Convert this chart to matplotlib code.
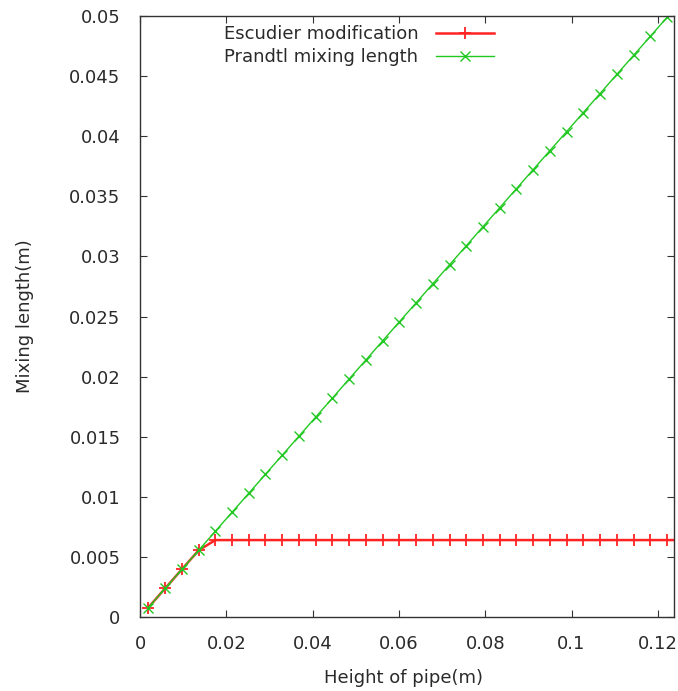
import matplotlib
matplotlib.use("Agg")
import matplotlib.pyplot as plt
from matplotlib.ticker import FuncFormatter

plt.rcParams.update({
    'font.family': ['DejaVu Sans'],
    'font.size': 13,
    'text.color': '#2a2a2a',
    'axes.edgecolor': '#333333',
    'axes.linewidth': 1.0,
    'xtick.direction': 'in', 'ytick.direction': 'in',
    'xtick.top': True, 'ytick.right': True,
    'xtick.color': '#333333', 'ytick.color': '#333333',
    'xtick.labelcolor': '#2a2a2a', 'ytick.labelcolor': '#2a2a2a',
    'xtick.major.size': 5, 'ytick.major.size': 5,
})

# Cell-centre heights across the pipe (m)
height = [0.00194, 0.00582, 0.00969, 0.01357, 0.01745, 0.02132, 0.0252, 0.02908,
          0.03296, 0.03683, 0.04071, 0.04459, 0.04846, 0.05234, 0.05622, 0.06009,
          0.06397, 0.06785, 0.07173, 0.0756, 0.07948, 0.08336, 0.08723, 0.09111,
          0.09499, 0.09886, 0.10274, 0.10662, 0.1105, 0.11437, 0.11825, 0.12213,
          0.126]

# Prandtl mixing length (m)
prandtl = [0.00079, 0.00238, 0.00396, 0.00554, 0.00713, 0.00871, 0.01029, 0.01188,
           0.01346, 0.01504, 0.01663, 0.01821, 0.0198, 0.02138, 0.02297, 0.02455,
           0.02613, 0.02772, 0.0293, 0.03088, 0.03247, 0.03405, 0.03563, 0.03722,
           0.0388, 0.04038, 0.04197, 0.04355, 0.04514, 0.04672, 0.0483, 0.04989,
           0.05147]

# Escudier modification: capped mixing length (m)
escudier = [0.00079, 0.00238, 0.00396, 0.00554, 0.0064, 0.0064, 0.0064, 0.0064,
            0.0064, 0.0064, 0.0064, 0.0064, 0.0064, 0.0064, 0.0064, 0.0064,
            0.0064, 0.0064, 0.0064, 0.0064, 0.0064, 0.0064, 0.0064, 0.0064,
            0.0064, 0.0064, 0.0064, 0.0064, 0.0064, 0.0064, 0.0064, 0.0064,
            0.0064]

x_ticks = [0, 0.02, 0.04, 0.06, 0.08, 0.1, 0.12]
y_ticks = [0, 0.005, 0.01, 0.015, 0.02, 0.025, 0.03, 0.035, 0.04, 0.045, 0.05]

fig = plt.figure(figsize=(6.78, 6.91), dpi=100)
ax = fig.add_axes([140 / 678, 1 - 617 / 691, 534 / 678, 601 / 691])

ax.plot(height, escudier, color='#ff2424', lw=1.8, marker='+',
        markersize=8, markeredgewidth=1.3, label='Escudier modification')
ax.plot(height, prandtl, color='#22c822', lw=1.0, marker='x',
        markersize=7, markeredgewidth=1.0, label='Prandtl mixing length')

ax.set_xlim(0, 0.12375)
ax.set_ylim(0, 0.05)
ax.set_xticks(x_ticks)
ax.set_yticks(y_ticks)
fmt = FuncFormatter(lambda v, pos: '%g' % round(v, 6))
ax.xaxis.set_major_formatter(fmt)
ax.yaxis.set_major_formatter(fmt)
ax.tick_params(axis='x', pad=13)
ax.tick_params(axis='y', pad=14)

fig.text(404 / 678, 1 - 678 / 691, 'Height of pipe(m)', ha='center', va='center')
fig.text(25 / 678, 1 - 316 / 691, 'Mixing length(m)', ha='center', va='center',
         rotation=90)

ax.legend(loc='upper right', bbox_to_anchor=(494 / 678, 1 - 25 / 691),
          bbox_transform=fig.transFigure, frameon=False, markerfirst=False,
          borderpad=0, handlelength=3.2, handletextpad=1.0, labelspacing=0.28,
          borderaxespad=0)

fig.savefig('out.png', dpi=100)
